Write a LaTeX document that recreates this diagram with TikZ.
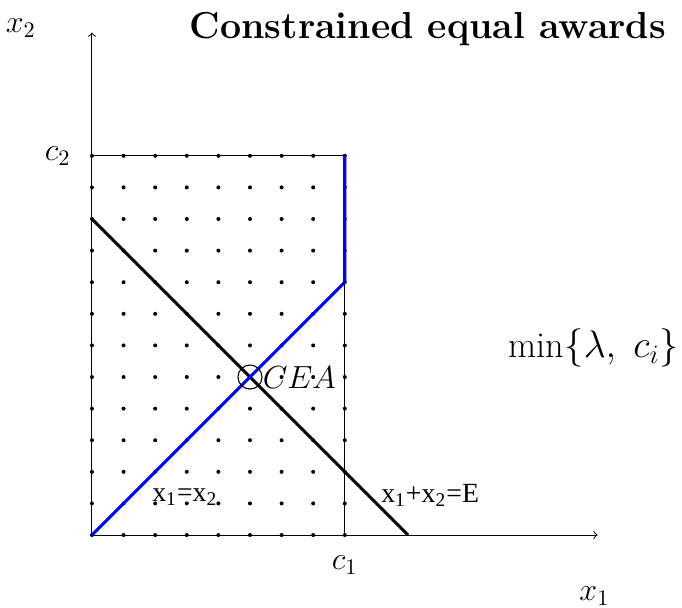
\documentclass[tikz,border=0pt]{standalone}
\usepackage{fontspec}
\newfontfamily\tnr{Liberation Serif}
\begin{document}
\begin{tikzpicture}[x=0.5cm,y=0.5cm,
  axis/.style={line width=0.45pt,->},
  frame/.style={line width=0.6pt},
  dotmark/.style={circle,fill=black,inner sep=0pt,minimum size=1.8pt},
  budget/.style={line width=1.4pt,black},
  path/.style={line width=1.4pt,blue},
  lbl/.style={inner sep=1pt},
  eqlbl/.style={inner sep=1pt,font=\fontsize{12.5}{15}\selectfont\tnr}]
\useasboundingbox (-2.91,-2.28) rectangle (18.67,16.93);
% dots
\foreach \i in {0,...,8}{\foreach \j in {0,...,12}{
  \node[dotmark] (d-\i-\j) at (\i,\j) {};}}
\coordinate (O) at (0,0);
\coordinate (xe) at (16,0);
\coordinate (ye) at (0,15.9);
\coordinate (C1) at (8,0);
\coordinate (C2) at (0,12);
\coordinate (CC) at (8,12);
\coordinate (K) at (8,8);
\coordinate (E2) at (0,10);
\coordinate (E1) at (10,0);
\coordinate (P) at (5,5);
\draw[axis] (O) -- (xe);
\draw[axis] (O) -- (ye);
\draw[frame] (C2) -- (CC) -- (C1);
\draw[budget] (E2) -- (E1);
\draw[path] (O) -- (K) -- (CC);
\node[draw,circle,minimum size=0.76*0.5cm,inner sep=0pt,line width=0.5pt] (cea) at (P) {};
\node[lbl,anchor=west,font=\fontsize{14.3}{17}\selectfont] (ceal) at (5.32,4.98) {$CEA$};
\node[lbl,font=\fontsize{16.9}{20}\selectfont\bfseries] (title) at (10.63,16.02) {Constrained equal awards};
\node[lbl,font=\Large] (x2l) at (-2.25,16.04) {$x_2$};
\node[lbl,font=\Large] (x1l) at (15.9,-1.92) {$x_1$};
\node[lbl,font=\Large] (c2l) at (-1.08,12) {$c_2$};
\node[lbl,font=\Large] (c1l) at (8,-0.95) {$c_1$};
\node[lbl,font=\fontsize{16.4}{20}\selectfont] (minl) at (15.88,5.92) {$\min\{\lambda,\ c_i\}$};
\node[eqlbl] (eq1) at (2.94,1.2) {x\textsubscript{1}=x\textsubscript{2}};
\node[eqlbl] (eq2) at (10.7,1.27) {x\textsubscript{1}+x\textsubscript{2}=E};
\end{tikzpicture}
\end{document}
